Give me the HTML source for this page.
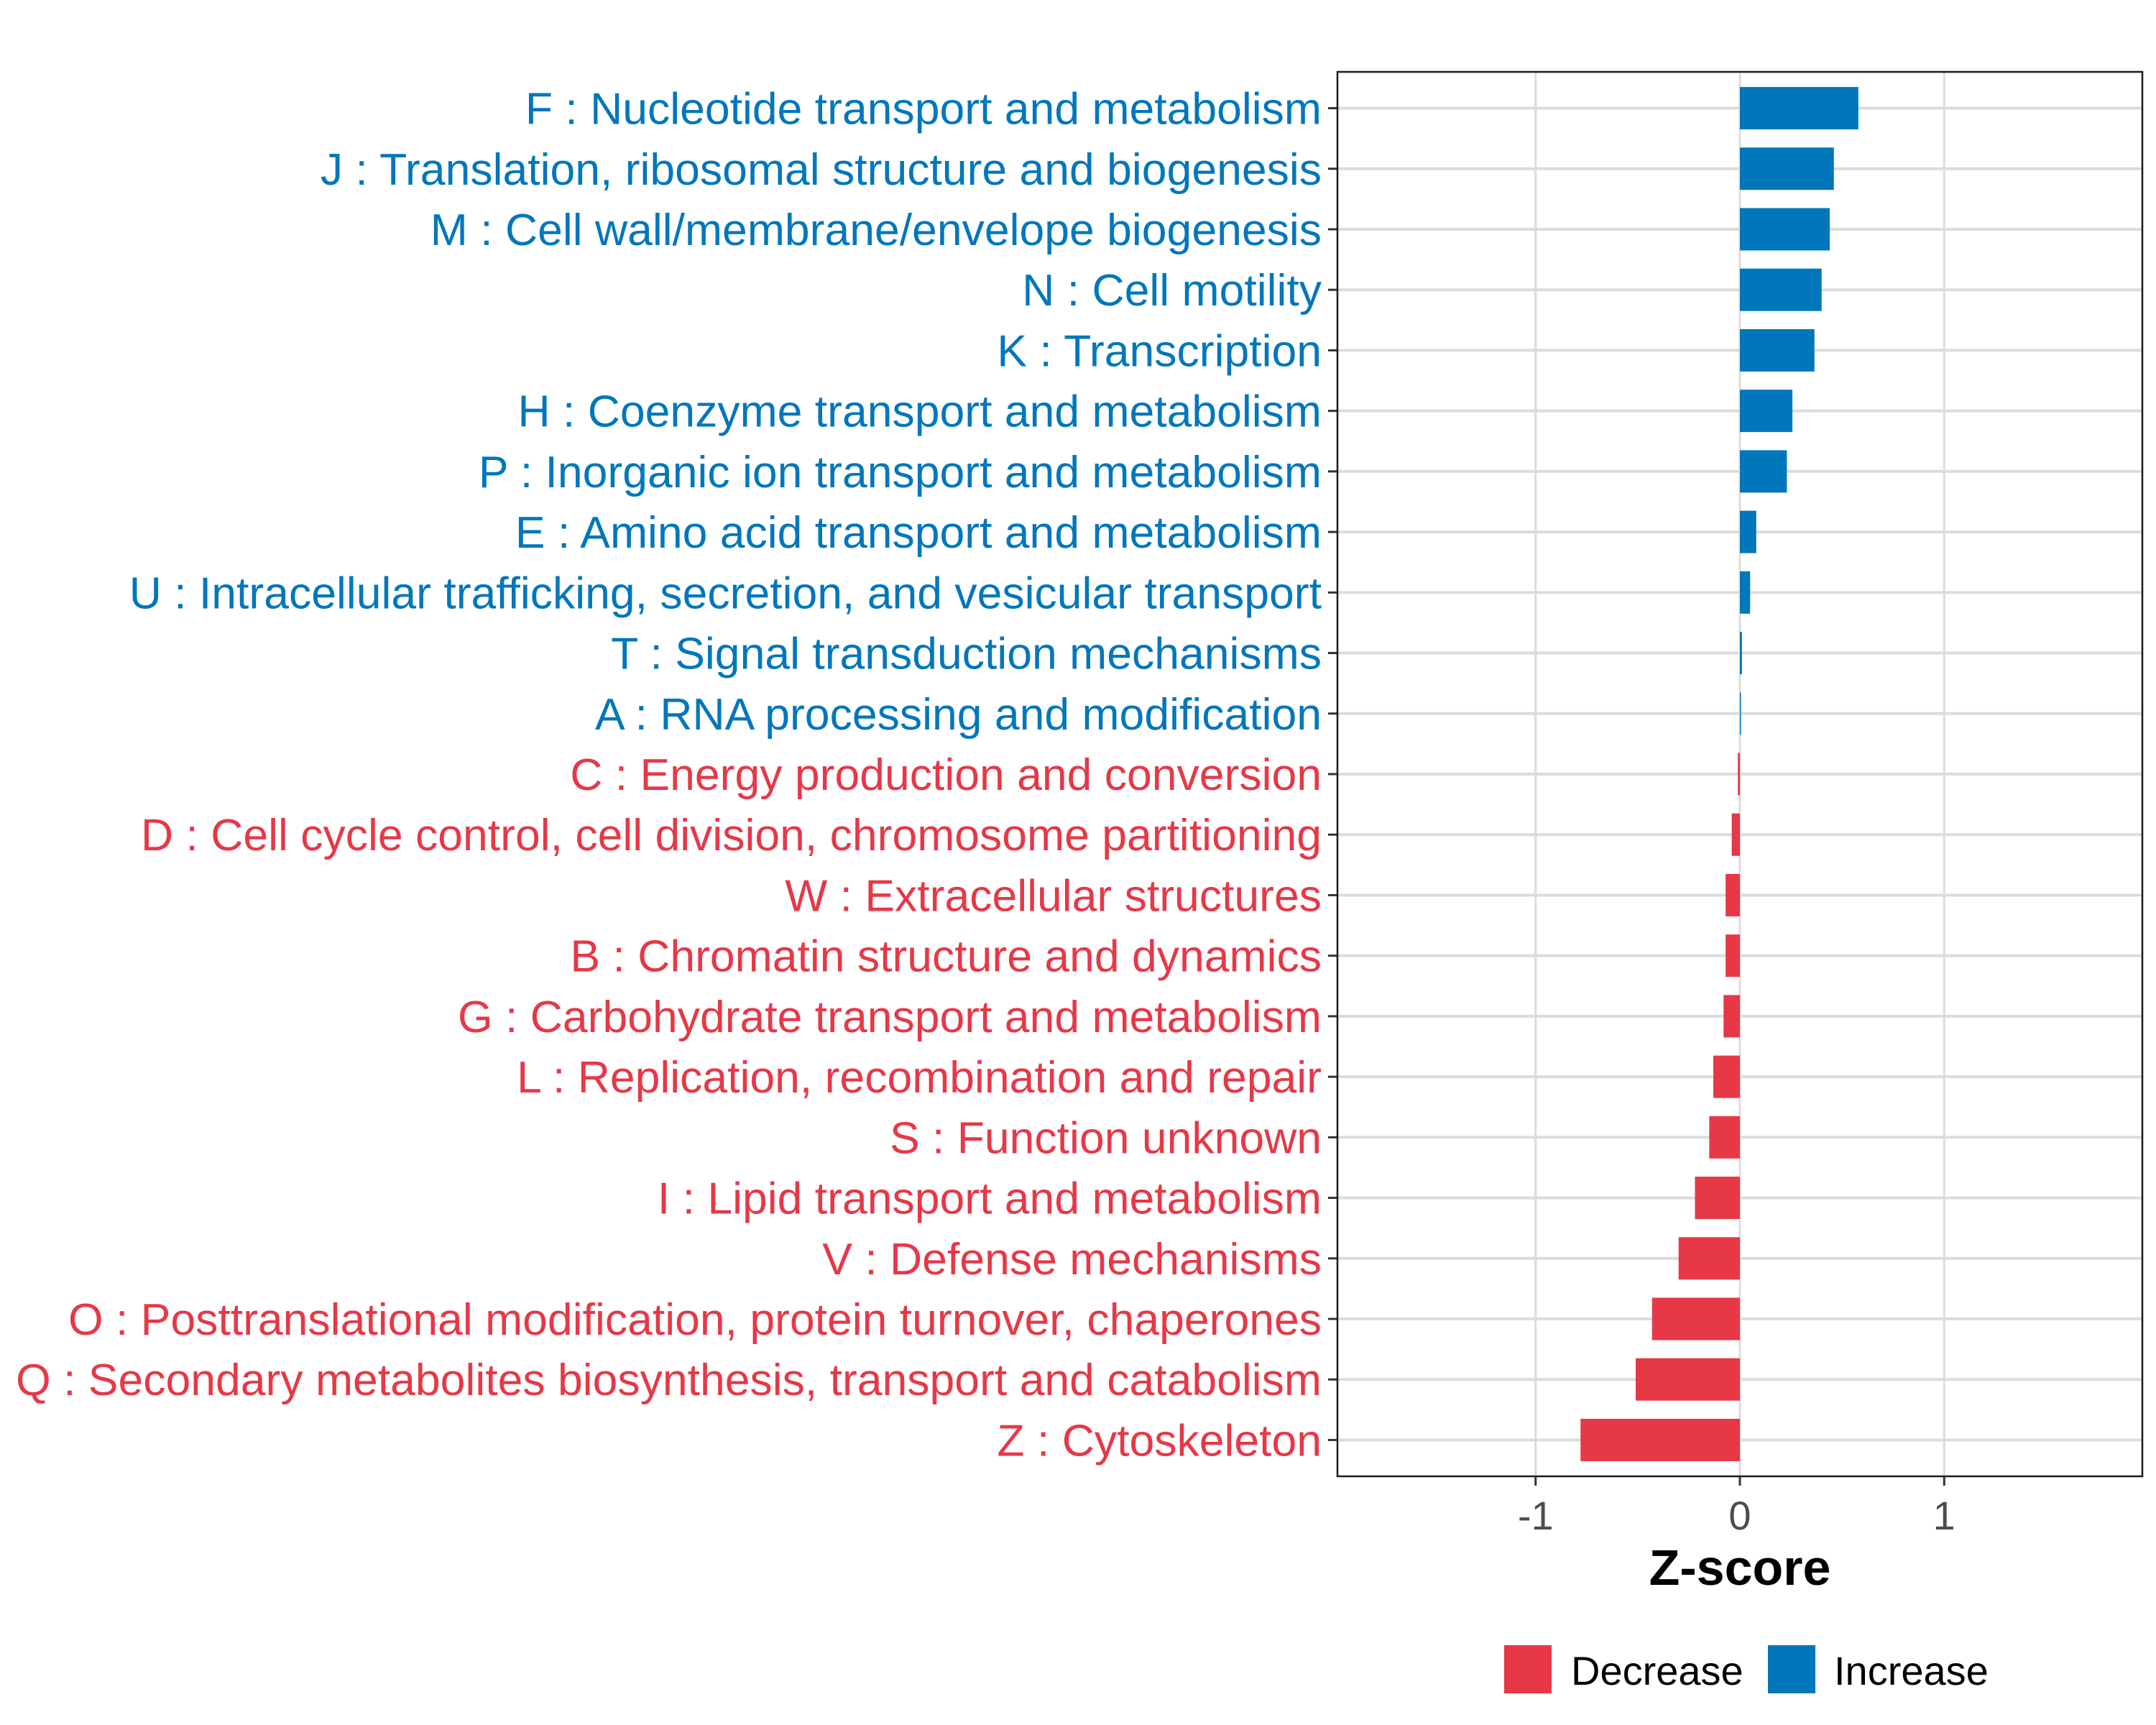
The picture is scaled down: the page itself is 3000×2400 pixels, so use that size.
<!DOCTYPE html>
<html><head><meta charset="utf-8"><style>
html,body{margin:0;padding:0;background:#fff}
svg{display:block;font-family:"Liberation Sans",Arial,sans-serif}
</style></head><body>
<svg id="chart" width="3000" height="2400" viewBox="0 0 3000 2400">
<rect width="3000" height="2400" fill="#fff"/>
<g id="grid"></g><g id="bars"></g><g id="axes"></g>
</svg>
<script>
const categories = ["F : Nucleotide transport and metabolism","J : Translation, ribosomal structure and biogenesis","M : Cell wall/membrane/envelope biogenesis","N : Cell motility","K : Transcription","H : Coenzyme transport and metabolism","P : Inorganic ion transport and metabolism","E : Amino acid transport and metabolism","U : Intracellular trafficking, secretion, and vesicular transport","T : Signal transduction mechanisms","A : RNA processing and modification","C : Energy production and conversion","D : Cell cycle control, cell division, chromosome partitioning","W : Extracellular structures","B : Chromatin structure and dynamics","G : Carbohydrate transport and metabolism","L : Replication, recombination and repair","S : Function unknown","I : Lipid transport and metabolism","V : Defense mechanisms","O : Posttranslational modification, protein turnover, chaperones","Q : Secondary metabolites biosynthesis, transport and catabolism","Z : Cytoskeleton"];
const zscores = [0.58,0.46,0.44,0.40,0.365,0.257,0.23,0.08,0.05,0.01,0.005,-0.01,-0.04,-0.07,-0.07,-0.08,-0.13,-0.15,-0.22,-0.30,-0.43,-0.51,-0.78];
const xTicks = [-1,0,1];
const xTickLabels = ["-1","0","1"];
const legendLabels = ["Decrease","Increase"];

const NS="http://www.w3.org/2000/svg";
const P={l:1861,r:2981,t:100,b:2054};
const XMIN=-1.97,XMAX=1.97;
const BLUE="#0077bb",RED="#e63847";
function xs(v){return P.l+(v-XMIN)/(XMAX-XMIN)*(P.r-P.l);}
const n=categories.length;
const step=(P.b-P.t)/(n+0.2);
function ys(i){return P.t+step*(0.6+i);}
function mk(tag,attrs,parent){const e=document.createElementNS(NS,tag);for(const k in attrs)e.setAttribute(k,attrs[k]);parent.appendChild(e);return e;}
const grid=document.getElementById('grid'),bars=document.getElementById('bars'),axes=document.getElementById('axes');
mk('rect',{x:P.l,y:P.t,width:P.r-P.l,height:P.b-P.t,fill:'#fff'},grid);
xTicks.forEach(t=>{const l=mk('line',{x1:xs(t),x2:xs(t),y1:P.t,y2:P.b,stroke:'#dcdcdc','stroke-width':3},grid);

});
categories.forEach((c,i)=>{const l=mk('line',{x1:P.l,x2:P.r,y1:ys(i),y2:ys(i),stroke:'#dcdcdc','stroke-width':4},grid);

});
const bh=step*0.7;
zscores.forEach((v,i)=>{const x0=xs(Math.min(0,v)),x1=xs(Math.max(0,v));
const r=mk('rect',{x:x0,y:ys(i)-bh/2,width:Math.max(1.5,x1-x0),height:bh,fill:v>=0?BLUE:RED},bars);


const tk=mk('line',{x1:P.l-13,x2:P.l,y1:ys(i),y2:ys(i),stroke:'#333','stroke-width':3},axes);


const t=mk('text',{x:P.l-22,y:ys(i)+22,'text-anchor':'end','font-size':62.5,fill:v>=0?BLUE:RED},axes);
t.textContent=categories[i];

});
const border=mk('rect',{x:P.l,y:P.t,width:P.r-P.l,height:P.b-P.t,fill:'none',stroke:'#1a1a1a','stroke-width':2.5},axes);


xTicks.forEach((t,i)=>{const tk=mk('line',{x1:xs(t),x2:xs(t),y1:P.b,y2:P.b+13,stroke:'#333','stroke-width':3},axes);


const lb=mk('text',{x:xs(t),y:P.b+74,'text-anchor':'middle','font-size':56,fill:'#4d4d4d'},axes);
lb.textContent=xTickLabels[i];

});
const title=mk('text',{x:xs(0),y:2205,'text-anchor':'middle','font-size':70,'font-weight':'bold',fill:'#000'},axes);
title.textContent='Z-score';


const lx=[2099,2466],tx=[2192,2558],lc=[RED,BLUE];
legendLabels.forEach((s,i)=>{const k=mk('rect',{x:lx[i]-6,y:2289,width:66,height:67,fill:lc[i]},axes);


const t=mk('text',{x:tx[i]-6,y:2344,'font-size':56,fill:'#000'},axes);
t.textContent=s;

});
</script>
</body></html>
